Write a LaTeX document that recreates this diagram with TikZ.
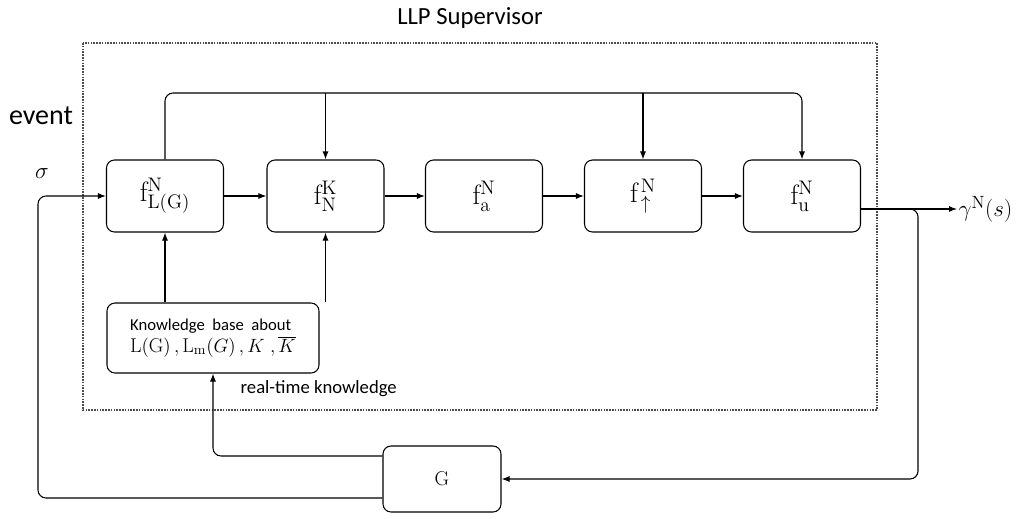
\documentclass[tikz,border=0pt]{standalone}
\usepackage{fontspec}
\setsansfont{Carlito}
\usetikzlibrary{arrows.meta,calc}
\begin{document}
\begin{tikzpicture}[x=0.75pt,y=-0.75pt,
  fblock/.style={draw,line width=0.8pt,rounded corners=6pt,minimum width=87.75pt,minimum height=54pt,inner sep=0pt,font=\fontsize{21}{23}\selectfont},
  link/.style={line width=0.8pt,-{Latex[length=6pt,width=4.5pt]}},
  wire/.style={line width=0.8pt,rounded corners=6pt},
  lbl/.style={font=\sffamily}]
\useasboundingbox (0,0) rectangle (1032,518);

% supervisor frame
\draw[gray!60!black,line width=0.9pt,dash pattern=on 1.2pt off 0.9pt] (83,43) rectangle (877,410);
\node[lbl,font=\sffamily\fontsize{18.5}{20}\selectfont] (title) at (470,18) {LLP Supervisor};

% function blocks
\node[fblock] (b1) at (165,196) {$\mathrm{f}^{\mathrm{N}}_{\mathrm{L(G)}}$};
\node[fblock] (b2) at (325.5,196) {$\mathrm{f}^{\mathrm{K}}_{\mathrm{N}}$};
\node[fblock] (b3) at (484,196) {$\mathrm{f}^{\mathrm{N}}_{\mathrm{a}}$};
\node[fblock] (b4) at (643,196) {$\mathrm{f}^{\,\mathrm{N}}_{\,\uparrow}$};
\node[fblock] (b5) at (802,196) {$\mathrm{f}^{\mathrm{N}}_{\mathrm{u}}$};

% knowledge base and plant
\node[draw,line width=0.8pt,rounded corners=6pt,minimum width=159pt,minimum height=52.5pt,align=left,inner sep=2pt] (kb) at (213,338)
  {{\sffamily\fontsize{12.5}{14}\selectfont Knowledge\ \ base\ \ about}\\[1pt]
   {\fontsize{15}{17}\selectfont $\mathrm{L(G)}\,,\mathrm{L_m}(G)\,,K\;,\overline{K}$}};
\node[draw,line width=0.8pt,rounded corners=6pt,minimum width=88.5pt,minimum height=49.5pt] (G) at (442,479)
  {\fontsize{15}{17}\selectfont G};

% labels
\node[lbl,font=\sffamily\fontsize{21}{23}\selectfont] (ev) at (41,116) {event};
\node[font=\fontsize{19}{21}\selectfont] (sig) at (42,174) {$\sigma$};
\node[lbl,font=\sffamily\fontsize{14}{16}\selectfont,anchor=west] (rt) at (236,389) {real-time knowledge};
\coordinate (out) at (957,209);
\node[anchor=west,font=\fontsize{19}{21}\selectfont,inner sep=1pt] (gam) at (out) {$\gamma^{\mathrm{N}}(s)$};

% chain of blocks
\draw[link] (b1) -- (b2);
\draw[link] (b2) -- (b3);
\draw[link] (b3) -- (b4);
\draw[link] (b4) -- (b5);

% top bus
\coordinate (bus) at (0,93);
\draw[wire,link] (b1.north) -- (b1.north |- bus) -- (b5.north |- bus) -- (b5.north);
\draw[link] (b2.north |- bus) -- (b2.north);
\draw[link] (b4.north |- bus) -- (b4.north);

% knowledge base feeds
\draw[link] (kb.north -| b1) -- (b1.south);
\draw[link] (kb.north -| b2) -- (b2.south);

% output and feedback to G
\draw[link] ($(b5.east)+(0,13)$) -- (out);
\draw[wire,link] (900,209) -- (918,209) -- (918,479) -- (G.east);

% G back to the supervisor
\draw[wire,link] ($(G.west)+(0,-23)$) -- (213,456) -- (kb.south);
\draw[wire,link] ($(G.west)+(0,19)$) -- (38,498) -- (38,196) -- (b1.west);
\end{tikzpicture}
\end{document}
